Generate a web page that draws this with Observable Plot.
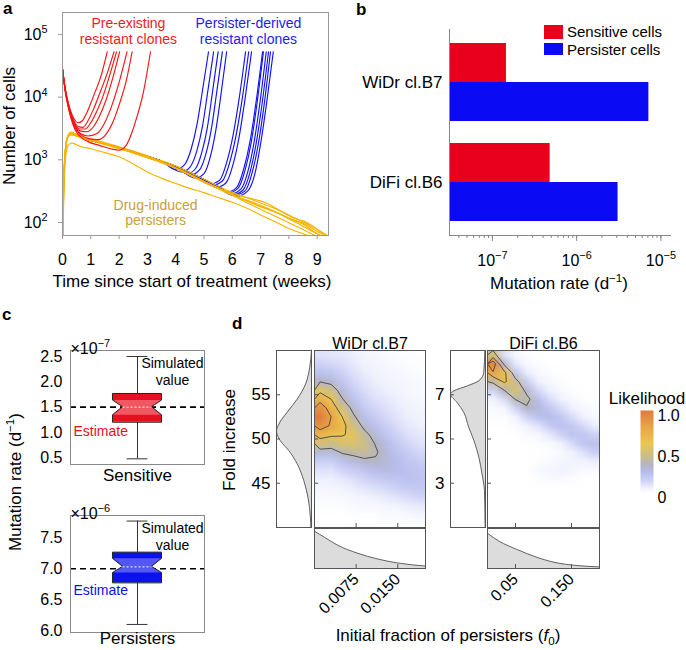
<!DOCTYPE html>
<html>
<head>
<meta charset="utf-8">
<script src="https://cdn.jsdelivr.net/npm/d3@7"></script>
<script src="https://cdn.jsdelivr.net/npm/@observablehq/plot@0.6"></script>
<style>
  html, body { margin: 0; padding: 0; background: #fff; }
  #fig { position: relative; width: 686px; height: 650px; overflow: hidden; background: #fff; }
  #fig svg { position: absolute; overflow: visible; }
</style>
</head>
<body>
<div id="fig"></div>
<script>
const FONT = '"Liberation Sans", Arial, Helvetica, sans-serif';

// ================= DATA: panel a (number of cells vs. weeks) =================
const weekTicks = [0, 1, 2, 3, 4, 5, 6, 7, 8, 9];
const cellTicks = [100, 1000, 10000, 100000];
// pre-existing resistant clones (red): [week, cells]
const preExistingRuns = [
  [[0,2.8e4],[0.1,1.35e4],[0.2,8200],[0.3,5800],[0.42,4400],[0.55,3900],[0.7,4200],[0.85,5500],[1.0,8000],[1.15,1.2e4],[1.35,2.1e4],[1.58,5.3e4]],
  [[0,2.8e4],[0.1,1.3e4],[0.2,8000],[0.3,5500],[0.42,4000],[0.55,3400],[0.72,3300],[0.9,4200],[1.1,6500],[1.3,1.1e4],[1.55,2.2e4],[1.82,5.3e4]],
  [[0,2.8e4],[0.1,1.3e4],[0.2,7800],[0.3,5300],[0.45,3700],[0.6,3100],[0.8,3100],[1.0,3900],[1.2,5800],[1.42,1e4],[1.65,2.1e4],[1.91,5.3e4]],
  [[0,2.8e4],[0.1,1.28e4],[0.2,7600],[0.3,5100],[0.45,3500],[0.62,2900],[0.85,2800],[1.1,3400],[1.3,4900],[1.52,8500],[1.76,1.9e4],[2.02,5.3e4]],
  [[0,2.8e4],[0.1,1.25e4],[0.2,7400],[0.3,4900],[0.45,3300],[0.65,2600],[0.9,2400],[1.2,2600],[1.45,3600],[1.7,6500],[1.98,1.6e4],[2.28,5.3e4]],
  [[0,2.8e4],[0.1,1.25e4],[0.2,7300],[0.3,4800],[0.45,3200],[0.65,2500],[0.9,2200],[1.25,2100],[1.55,2600],[1.8,4200],[2.05,8800],[2.25,1.8e4],[2.46,5.3e4]],
  [[0,2.8e4],[0.1,1.2e4],[0.2,7000],[0.3,4600],[0.45,3000],[0.65,2300],[0.9,1950],[1.3,1700],[1.7,1500],[2.0,1420],[2.25,1700],[2.45,2700],[2.65,5200],[2.85,1.15e4],[3.11,5.3e4]]
];
// persister population trend before resistance emerges (blue runs share it)
const persisterBandT = [0.7, 1, 1.5, 2, 2.5, 3, 3.5, 4, 4.5, 5, 5.5, 6];
const persisterBandN = [2250, 2050, 1800, 1560, 1330, 1130, 950, 780, 620, 480, 375, 295];
// persister-derived resistant clones (blue): take-off part
const persisterDerivedRises = [
  [[4.0,700],[4.3,820],[4.55,1500],[4.75,3600],[4.95,1.3e4],[5.16,5.3e4]],
  [[4.2,640],[4.5,760],[4.75,1400],[4.95,3500],[5.13,1.2e4],[5.34,5.3e4]],
  [[4.4,600],[4.7,720],[4.92,1300],[5.12,3300],[5.3,1.2e4],[5.5,5.3e4]],
  [[4.5,570],[4.85,700],[5.08,1300],[5.27,3300],[5.45,1.2e4],[5.65,5.3e4]],
  [[4.7,510],[5.0,600],[5.22,1100],[5.42,3000],[5.6,1.1e4],[5.8,5.3e4]],
  [[5.2,410],[5.55,470],[5.8,900],[6.03,2500],[6.25,1e4],[6.47,5.3e4]],
  [[5.3,395],[5.65,460],[5.9,880],[6.13,2400],[6.36,1e4],[6.58,5.3e4]],
  [[5.45,365],[5.78,430],[6.02,820],[6.24,2300],[6.46,1e4],[6.68,5.3e4]],
  [[5.8,305],[6.15,360],[6.4,700],[6.63,2000],[6.85,9000],[7.07,5.3e4]],
  [[5.85,295],[6.2,350],[6.45,680],[6.67,1900],[6.89,9000],[7.1,5.3e4]],
  [[5.95,285],[6.3,340],[6.55,650],[6.77,1900],[6.99,9000],[7.2,5.3e4]],
  [[6.0,275],[6.38,330],[6.63,640],[6.85,1900],[7.07,9000],[7.28,5.3e4]],
  [[6.05,270],[6.45,320],[6.7,620],[6.92,1800],[7.14,8500],[7.35,5.3e4]],
  [[6.15,262],[6.55,320],[6.8,600],[7.0,1800],[7.22,8500],[7.45,5.3e4]]
];
// drug-induced persisters (yellow)
const drugInducedRuns = [
  [[0,40],[0.06,420],[0.12,1200],[0.22,1750],[0.35,1850],[0.6,1650],[1,1500],[1.5,1300],[2,1120],[2.5,860],[3,640],[3.5,510],[4,420],[4.5,350],[5,300],[5.5,250],[6,210],[6.5,170],[7,132],[7.5,104],[8,80],[8.5,66],[8.8,59]],
  [[0,40],[0.05,500],[0.12,1600],[0.22,2500],[0.32,2800],[0.5,2500],[0.8,2250],[1.2,2050],[1.6,1820],[2,1620],[2.5,1380],[3,1160],[3.5,970],[4,800],[4.5,630],[5,490],[5.5,380],[6,300],[6.5,250],[7,205],[7.5,168],[8,132],[8.5,102],[9,78],[9.4,60]],
  [[0,40],[0.06,700],[0.14,2000],[0.25,2700],[0.4,2600],[0.7,2250],[1.1,2030],[1.5,1760],[2,1500],[2.5,1290],[3,1080],[3.5,900],[4,730],[4.5,570],[5,440],[5.5,345],[6,275],[6.5,228],[7,188],[7.5,150],[8,118],[8.5,97],[9,72],[9.3,61]],
  [[0,40],[0.05,600],[0.15,2100],[0.28,2600],[0.5,2400],[0.9,2150],[1.3,1930],[1.8,1660],[2.2,1460],[2.7,1240],[3.2,1050],[3.7,860],[4.2,680],[4.7,530],[5.2,410],[5.7,325],[6.2,272],[6.7,238],[7.2,205],[7.6,162],[8,128],[8.3,112],[8.6,102],[8.9,84],[9.2,67],[9.4,59]],
  [[0,40],[0.07,900],[0.16,2200],[0.3,2500],[0.6,2300],[1,2070],[1.4,1860],[1.9,1590],[2.4,1330],[2.9,1130],[3.4,940],[3.9,770],[4.4,600],[4.9,460],[5.4,365],[5.9,290],[6.4,232],[6.9,186],[7.3,160],[7.7,136],[8.1,112],[8.5,94],[8.8,76],[9.1,62]],
  [[0,40],[0.08,1000],[0.2,2400],[0.35,2550],[0.7,2200],[1.1,1960],[1.6,1710],[2.1,1460],[2.6,1250],[3.1,1040],[3.6,880],[4.1,700],[4.6,545],[5.1,425],[5.6,338],[6.1,266],[6.6,212],[7.1,172],[7.6,142],[8,114],[8.4,92],[8.8,73],[9.2,60]],
  [[0,40],[0.06,800],[0.18,2300],[0.3,2650],[0.6,2350],[1,2110],[1.5,1810],[2,1550],[2.5,1330],[3,1110],[3.5,925],[4,745],[4.5,585],[5,452],[5.5,348],[6,272],[6.5,208],[7,162],[7.5,127],[8,99],[8.4,81],[8.8,66],[9,59]]
];
const annotationsA = [
  {label: "Pre-existing", group: "red", t: 2.33, n: 1.5e5},
  {label: "resistant clones", group: "red", t: 2.33, n: 8.3e4},
  {label: "Persister-derived", group: "blue", t: 6.57, n: 1.5e5},
  {label: "resistant clones", group: "blue", t: 6.57, n: 8.3e4},
  {label: "Drug-induced", group: "gold", t: 3.29, n: 187},
  {label: "persisters", group: "gold", t: 3.29, n: 107}
];
const lineColors = {red: "#ff1212", blue: "#1010ff", yellow: "#f5b400"};
const annotationColors = {red: "#f01c1c", blue: "#1c1cf0", gold: "#c9a035"};

// ================= DATA: panel b (mutation rates) =================
const cellLines = ["WiDr cl.B7", "DiFi cl.B6"];
const cellTypes = ["Sensitive cells", "Persister cells"];
const sensitiveRates = [1.47e-7, 4.85e-7];
const persisterRates = [7.2e-6, 3.1e-6];
const typeColors = ["#e8001c", "#0a0af5"];
const rateMajorTicks = [1e-7, 1e-6, 1e-5];

// ================= DATA: panel c (box plots, value in units of the axis multiplier) =================
// [whisker low, Q1, notch low, median, notch high, Q3, whisker high]
const sensitiveStats = [0.48, 1.2, 1.34, 1.5, 1.63, 1.76, 2.5];
const persisterStats = [6.1, 6.77, 6.93, 7.03, 7.16, 7.26, 7.77];
const simulatedValues = [1.5, 7.0];
const sensitiveTicks = [0.5, 1.0, 1.5, 2.0, 2.5];
const persisterTicks = [6.0, 6.5, 7.0, 7.5];
const boxNames = ["Sensitive", "Persisters"];
const boxMultipliers = ["×10^{−7}", "×10^{−6}"];
const boxColors = ["#e8101e", "#0a10ee"];

// ================= DATA: panel d (likelihood surfaces) =================
// WiDr cl.B7 grid: 10 columns (f0 = 0.001 … 0.019), 20 rows (fold increase 59.5 … 40.5)
const widrGrid = [
  0.10,0.09,0.08,0.06,0.04,0.03,0.02,0.01,0.01,0.00,
  0.15,0.13,0.11,0.08,0.05,0.04,0.03,0.02,0.01,0.01,
  0.22,0.20,0.15,0.10,0.07,0.05,0.04,0.03,0.02,0.01,
  0.34,0.30,0.20,0.13,0.09,0.06,0.05,0.04,0.03,0.02,
  0.55,0.45,0.27,0.17,0.11,0.08,0.06,0.05,0.03,0.02,
  0.74,0.60,0.36,0.22,0.14,0.10,0.08,0.06,0.04,0.03,
  0.90,0.72,0.48,0.30,0.18,0.13,0.10,0.07,0.05,0.04,
  1.00,0.80,0.60,0.38,0.23,0.17,0.12,0.09,0.06,0.05,
  0.88,0.78,0.66,0.48,0.30,0.22,0.16,0.11,0.08,0.06,
  0.70,0.64,0.62,0.55,0.40,0.28,0.20,0.14,0.10,0.08,
  0.48,0.45,0.50,0.52,0.45,0.34,0.25,0.18,0.13,0.10,
  0.28,0.27,0.37,0.40,0.42,0.37,0.28,0.21,0.17,0.13,
  0.16,0.16,0.22,0.27,0.32,0.33,0.29,0.24,0.20,0.17,
  0.10,0.10,0.14,0.17,0.21,0.25,0.26,0.24,0.22,0.20,
  0.06,0.06,0.08,0.11,0.14,0.17,0.20,0.21,0.22,0.21,
  0.04,0.04,0.05,0.07,0.09,0.11,0.13,0.16,0.18,0.19,
  0.02,0.02,0.03,0.04,0.05,0.06,0.08,0.10,0.12,0.14,
  0.01,0.01,0.01,0.02,0.03,0.03,0.04,0.05,0.07,0.08,
  0.00,0.00,0.00,0.01,0.01,0.01,0.02,0.02,0.03,0.04,
  0.00,0.00,0.00,0.00,0.00,0.00,0.01,0.01,0.01,0.01
];
// DiFi cl.B6 grid: 10 columns (f0 = 0.01 … 0.19), 20 rows (fold increase 8.8 … 1.2)
const difiGrid = [
  0.45,0.10,0.03,0.01,0.00,0.00,0.00,0.00,0.00,0.00,
  0.95,0.30,0.08,0.03,0.01,0.00,0.00,0.00,0.00,0.00,
  0.78,0.66,0.20,0.07,0.03,0.01,0.00,0.00,0.00,0.00,
  0.40,0.64,0.42,0.16,0.06,0.03,0.01,0.00,0.00,0.00,
  0.14,0.35,0.52,0.30,0.13,0.06,0.03,0.01,0.00,0.00,
  0.05,0.12,0.36,0.40,0.23,0.12,0.06,0.03,0.01,0.00,
  0.02,0.04,0.14,0.33,0.28,0.20,0.12,0.06,0.03,0.01,
  0.01,0.01,0.05,0.14,0.22,0.24,0.20,0.12,0.06,0.03,
  0.00,0.00,0.02,0.05,0.10,0.18,0.22,0.19,0.13,0.07,
  0.00,0.00,0.00,0.02,0.03,0.08,0.14,0.21,0.20,0.15,
  0.00,0.00,0.00,0.00,0.01,0.02,0.05,0.12,0.20,0.22,
  0.00,0.00,0.00,0.00,0.00,0.01,0.02,0.05,0.10,0.16,
  0.00,0.00,0.00,0.00,0.01,0.02,0.04,0.05,0.05,0.07,
  0.00,0.00,0.00,0.00,0.03,0.04,0.05,0.04,0.02,0.02,
  0.00,0.00,0.00,0.00,0.01,0.02,0.02,0.01,0.00,0.00,
  0.00,0.00,0.00,0.00,0.00,0.00,0.00,0.00,0.00,0.00,
  0.00,0.00,0.00,0.00,0.00,0.00,0.00,0.00,0.00,0.00,
  0.00,0.00,0.00,0.00,0.00,0.00,0.00,0.00,0.00,0.00,
  0.00,0.00,0.00,0.00,0.00,0.00,0.00,0.00,0.00,0.00,
  0.00,0.00,0.00,0.00,0.00,0.00,0.00,0.00,0.00,0.00
];
const gridCols = 10, gridRows = 20;
const widrF0Domain = [0, 0.02], widrFoldDomain = [40, 60];
const difiF0Domain = [0, 0.2], difiFoldDomain = [1, 9];
// marginal densities (relative)
const widrFoldMarginal = {fold: [60.05,58.1,56.2,54.5,53.0,51.7,50.9,49.8,48.7,47.2,45.3,43.4,41.1,40.0], dens: [0,0.05,0.17,0.41,0.7,0.93,1.0,0.89,0.65,0.41,0.22,0.1,0.03,0.02]};
const difiFoldMarginal = {fold: [9.0,8.0,7.63,7.4,7.18,7.03,6.65,6.2,5.53,4.93,4.18,3.43,2.68,1.0], dens: [0.02,0.05,0.19,0.52,0.9,1.0,0.81,0.62,0.48,0.33,0.19,0.1,0.03,0.01]};
const widrF0Marginal = {f0: [0,0.0018,0.0042,0.0078,0.0113,0.0149,0.02], dens: [0.93,0.78,0.58,0.38,0.24,0.14,0.06]};
const difiF0Marginal = {f0: [0,0.021,0.052,0.088,0.124,0.155,0.2], dens: [0.88,0.68,0.48,0.28,0.14,0.08,0.04]};
const widrFoldTicks = [45, 50, 55], difiFoldTicks = [3, 5, 7];
const widrF0Ticks = [0.0075, 0.015], widrF0Labels = ["0.0075", "0.0150"];
const difiF0Ticks = [0.05, 0.15], difiF0Labels = ["0.05", "0.150"];
const contourLevels = [0.35, 0.6, 0.8];
const likelihoodStops = [0, 0.06, 0.14, 0.24, 0.34, 0.45, 0.6, 0.8, 1];
const likelihoodColors = ["#ffffff", "#eef0fd", "#cfd4f7", "#b8beed", "#b4b5c4", "#cbbf86", "#ecc650", "#e8a546", "#e07b3c"];
const legendTicks = [0, 0.5, 1], legendTickLabels = ["0", "0.5", "1.0"];

// ================= helpers =================
const fig = document.getElementById("fig");
function place(svg, left, top) {
  svg.style.left = left + "px";
  svg.style.top = top + "px";
  fig.appendChild(svg);
  return svg;
}
const baseStyle = {fontFamily: FONT, fontSize: "16px", color: "#000", background: "transparent", overflow: "visible"};
const likelihoodScale = {type: "linear", domain: likelihoodStops, range: likelihoodColors, clamp: true};
const NS = "http://www.w3.org/2000/svg";
// turn ^{..} / _{..} / *{..} markup into super/subscript/italic tspans
function rich(root) {
  root.querySelectorAll("text").forEach(t => {
    if (t.children.length) return;
    const s = t.textContent;
    if (!/[\^_*]\{/.test(s)) return;
    const fs = parseFloat(getComputedStyle(t).fontSize) || 16;
    t.textContent = "";
    const re = /([\^_*])\{([^}]*)\}/g;
    let last = 0, shift = 0, m;
    const push = (str, target, small, italic) => {
      const ts = document.createElementNS(NS, "tspan");
      ts.textContent = str;
      const d = target - shift;
      if (d) ts.setAttribute("dy", d.toFixed(2));
      if (small) ts.setAttribute("font-size", (fs * 0.68).toFixed(1));
      if (italic) ts.setAttribute("font-style", "italic");
      shift = target;
      t.appendChild(ts);
    };
    while ((m = re.exec(s))) {
      if (m.index > last) push(s.slice(last, m.index), 0, false, false);
      if (m[1] === "^") push(m[2], -fs * 0.42, true, false);
      else if (m[1] === "_") push(m[2], fs * 0.22, true, false);
      else push(m[2], 0, false, true);
      last = re.lastIndex;
    }
    if (last < s.length) push(s.slice(last), 0, false, false);
  });
}

// ================= panel a =================
const flatten = runs => runs.flatMap((run, i) => run.map(([t, n]) => ({t, n, run: i})));
const persisterBand = persisterBandT.map((t, i) => [t, persisterBandN[i]]);
const persisterDerivedRuns = persisterDerivedRises.map(rise => persisterBand.filter(([t]) => t <= rise[0][0] - 0.3).concat(rise));
const lineOpts = {x: "t", y: "n", z: "run", strokeWidth: 1.15, curve: "monotone-x", clip: true};
place(Plot.plot({
  width: 345, height: 300, marginLeft: 62, marginRight: 17, marginTop: 12, marginBottom: 65,
  style: baseStyle,
  x: {domain: [0, 9.4]},
  y: {type: "log", domain: [62, 2.24e5]},
  marks: [
    Plot.line(flatten(persisterDerivedRuns), {...lineOpts, stroke: lineColors.blue}),
    Plot.line(flatten(drugInducedRuns), {...lineOpts, stroke: lineColors.yellow}),
    Plot.line(flatten(preExistingRuns), {...lineOpts, stroke: lineColors.red}),
    ...["red", "blue", "gold"].map(g => Plot.text(annotationsA.filter(d => d.group === g),
      {x: "t", y: "n", text: "label", fill: annotationColors[g], fontSize: 14})),
    Plot.frame({stroke: "#999"}),
    Plot.axisX({ticks: weekTicks, tickSize: 4, tickPadding: 14, stroke: "#999", fill: "#000", label: null}),
    Plot.axisY({ticks: cellTicks, tickFormat: d => `10^{${Math.round(Math.log10(d))}}`, tickSize: 4, tickPadding: 11, stroke: "#999", fill: "#000", label: null})
  ]
}), 0, 0);

// ================= panel b =================
const barsB = cellLines.flatMap((line, i) => [
  {line, type: cellTypes[0], rate: sensitiveRates[i]},
  {line, type: cellTypes[1], rate: persisterRates[i]}
]);
const rateDomain = [3.1e-8, 1.3e-5];
place(Plot.plot({
  width: 341, height: 300, marginLeft: 104, marginRight: 16, marginTop: 29, marginBottom: 65,
  style: baseStyle,
  x: {type: "log", domain: rateDomain},
  y: {domain: cellLines, paddingInner: 0.22, paddingOuter: 0.14},
  color: {domain: cellTypes, range: typeColors},
  marks: [
    Plot.barX(barsB.filter(d => d.type === cellTypes[0]), {y: "line", x1: rateDomain[0], x2: "rate", fill: "type", insetBottom: 39}),
    Plot.barX(barsB.filter(d => d.type === cellTypes[1]), {y: "line", x1: rateDomain[0], x2: "rate", fill: "type", insetTop: 39}),
    Plot.ruleX([rateDomain[0]], {stroke: "#888"}),
    Plot.frame({anchor: "bottom", stroke: "#888"}),
    Plot.axisX({ticks: 30, tickFormat: () => "", tickSize: 3, stroke: "#888", label: null}),
    Plot.axisX({ticks: rateMajorTicks, tickFormat: d => `10^{−${Math.round(-Math.log10(d))}}`, tickSize: 6, tickPadding: 13, stroke: "#888", fill: "#000", label: null}),
    Plot.axisY({tickSize: 0, tickPadding: 7, fontSize: 17, label: null})
  ]
}), 345, 0);

// ================= panel c =================
const BOX_C = 0.5, BOX_HALF = 0.183, NOTCH_HALF = 0.108, CAP_HALF = 0.078;
function boxPanel(i, stats, ticks, domain, top, height, marginBottom, nameDy) {
  const [wLo, q1, nLo, med, nHi, q3, wHi] = stats;
  const outline = [{y: q1, h: BOX_HALF}, {y: nLo, h: BOX_HALF}, {y: med, h: NOTCH_HALF}, {y: nHi, h: BOX_HALF}, {y: q3, h: BOX_HALF}];
  const notch = outline.slice(1, 4);
  place(Plot.plot({
    width: 215, height, marginLeft: 70, marginRight: 11, marginTop: 20, marginBottom,
    style: baseStyle,
    x: {domain: [0, 1], axis: null},
    y: {domain},
    marks: [
      Plot.ruleY([simulatedValues[i]], {stroke: "#000", strokeWidth: 1.6, strokeDasharray: "6,4"}),
      Plot.ruleX([BOX_C], {y1: wLo, y2: q1, stroke: "#333"}),
      Plot.ruleX([BOX_C], {y1: q3, y2: wHi, stroke: "#333"}),
      Plot.ruleY([wLo, wHi], {x1: BOX_C - CAP_HALF, x2: BOX_C + CAP_HALF, stroke: "#333"}),
      Plot.areaX(outline, {y: "y", x1: d => BOX_C - d.h, x2: d => BOX_C + d.h, fill: boxColors[i], stroke: "#222", strokeWidth: 1}),
      Plot.areaX(notch, {y: "y", x1: d => BOX_C - d.h + 0.006, x2: d => BOX_C + d.h - 0.006, fill: "#fff", fillOpacity: 0.3}),
      Plot.ruleY([med], {x1: BOX_C - NOTCH_HALF, x2: BOX_C + NOTCH_HALF, stroke: "#fff", strokeDasharray: "2,2"}),
      Plot.frame({stroke: "#888"}),
      Plot.axisY({ticks, tickFormat: d => d.toFixed(1), tickSize: 0, tickPadding: 8, label: null}),
      Plot.text([boxMultipliers[i]], {text: d => d, frameAnchor: "top-left", textAnchor: "start", dy: -8, fontSize: 16}),
      Plot.text(["Simulated\nvalue"], {text: d => d, frameAnchor: "top-right", textAnchor: "middle", lineAnchor: "middle", dx: -32, dy: 21, fontSize: 14, lineHeight: 1.2}),
      Plot.text([med], {y: d => d, text: () => "Estimate", frameAnchor: "left", textAnchor: "start", dx: 3, dy: 24, fill: boxColors[i], fontSize: 14}),
      Plot.text([boxNames[i]], {text: d => d, frameAnchor: "bottom", dy: nameDy, fontSize: 17})
    ]
  }), 0, top);
}
boxPanel(0, sensitiveStats, sensitiveTicks, [0.368, 2.618], 330, 165, 31, 16);
boxPanel(1, persisterStats, persisterTicks, [5.97, 7.86], 495, 155, 18, 11);

// ================= panel d =================
function foldMarginal(m, dom, ticks, left, width, marginLeft) {
  const data = m.fold.map((f, i) => ({fold: f, dens: m.dens[i]}));
  place(Plot.plot({
    width, height: 190, marginLeft, marginRight: 2, marginTop: 10, marginBottom: 3,
    style: baseStyle,
    x: {domain: [1, 0], axis: null},
    y: {domain: dom},
    marks: [
      Plot.areaX(data, {y: "fold", x: "dens", fill: "#dcdcdc", curve: "monotone-y"}),
      Plot.lineX(data, {y: "fold", x: "dens", stroke: "#555", strokeWidth: 0.9, curve: "monotone-y"}),
      Plot.tickY(ticks, {y: d => d, insetRight: 31, stroke: "#555"}),
      Plot.frame({stroke: "#555"}),
      Plot.axisY({ticks, tickSize: 0, tickPadding: 6, fontSize: 17, label: null})
    ]
  }), left, 340);
}
function heatmap(grid, xDom, yDom, xTicks, yTicks, title, left, width) {
  const fw = width - 5;
  place(Plot.plot({
    width, height: 200, marginLeft: 2, marginRight: 3, marginTop: 20, marginBottom: 3,
    style: baseStyle,
    x: {domain: xDom, axis: null},
    y: {domain: yDom, axis: null},
    color: likelihoodScale,
    marks: [
      Plot.raster(grid, {width: gridCols, height: gridRows, x1: xDom[0], x2: xDom[1], y1: yDom[1], y2: yDom[0], fill: Plot.identity}),
      Plot.contour(grid, {width: gridCols, height: gridRows, x1: xDom[0], x2: xDom[1], y1: yDom[1], y2: yDom[0], value: Plot.identity, thresholds: contourLevels, stroke: "#444", strokeWidth: 0.9, fill: "none"}),
      Plot.tickY(yTicks, {y: d => d, insetRight: fw - 4, stroke: "#555"}),
      Plot.tickX(xTicks, {x: d => d, insetTop: 173, stroke: "#555"}),
      Plot.frame({stroke: "#555"}),
      Plot.text([title], {text: d => d, frameAnchor: "top", dy: -13, fontSize: 16})
    ]
  }), left, 330);
}
function f0Marginal(m, xDom, ticks, labels, left, width) {
  const data = m.f0.map((f, i) => ({f0: f, dens: m.dens[i]}));
  place(Plot.plot({
    width, height: 112, marginLeft: 2, marginRight: 3, marginTop: 2, marginBottom: 70,
    style: baseStyle,
    x: {domain: xDom},
    y: {domain: [0, 1], axis: null},
    marks: [
      Plot.areaY(data, {x: "f0", y: "dens", fill: "#dcdcdc", curve: "monotone-x"}),
      Plot.lineY(data, {x: "f0", y: "dens", stroke: "#555", strokeWidth: 0.9, curve: "monotone-x"}),
      Plot.tickX(ticks, {x: d => d, insetTop: 36, stroke: "#555"}),
      Plot.frame({stroke: "#555"}),
      Plot.axisX({ticks, tickFormat: d => labels[ticks.indexOf(d)], tickRotate: -45, tickSize: 0, tickPadding: 8, fontSize: 16, label: null})
    ]
  }), left, 526);
}
foldMarginal(widrFoldMarginal, widrFoldDomain, widrFoldTicks, 236, 77, 40);
heatmap(widrGrid, widrF0Domain, widrFoldDomain, widrF0Ticks, widrFoldTicks, cellLines[0], 312, 116);
f0Marginal(widrF0Marginal, widrF0Domain, widrF0Ticks, widrF0Labels, 312, 116);
foldMarginal(difiFoldMarginal, difiFoldDomain, difiFoldTicks, 420, 67, 30);
heatmap(difiGrid, difiF0Domain, difiFoldDomain, difiF0Ticks, difiFoldTicks, cellLines[1], 485, 117);
f0Marginal(difiF0Marginal, difiF0Domain, difiF0Ticks, difiF0Labels, 485, 117);

// likelihood colour bar
place(Plot.plot({
  width: 86, height: 125, marginLeft: 40, marginRight: 33, marginTop: 30, marginBottom: 13,
  style: baseStyle,
  x: {domain: [0, 1], axis: null},
  y: {domain: [0, 1]},
  color: likelihoodScale,
  marks: [
    Plot.raster({fill: (x, y) => y, x1: 0, x2: 1, y1: 0, y2: 1, pixelSize: 1}),
    Plot.axisY({anchor: "right", ticks: legendTicks, tickFormat: d => legendTickLabels[legendTicks.indexOf(d)], tickSize: 0, tickPadding: 4, dy: 5, fontSize: 16, label: null}),
    Plot.text(["Likelihood"], {text: d => d, frameAnchor: "top", dy: -19, fontSize: 17})
  ]
}), 600, 380);

// ================= overlay: panel letters, axis titles, legend =================
const ov = d3.select(fig).append("svg").attr("width", 686).attr("height", 650)
  .style("left", "0px").style("top", "0px").attr("font-family", FONT);
function label(str, x, y, {size = 17, weight = null, anchor = "middle", rotate = 0, fill = "#000"} = {}) {
  ov.append("text").attr("transform", `translate(${x},${y}) rotate(${rotate})`)
    .attr("text-anchor", anchor).attr("font-size", size).attr("font-weight", weight).attr("fill", fill).text(str);
}
label("a", 3, 14, {weight: "bold", anchor: "start"});
label("b", 356, 15, {weight: "bold", anchor: "start"});
label("c", 2, 320, {weight: "bold", anchor: "start"});
label("d", 232, 329, {weight: "bold", anchor: "start"});
label("Time since start of treatment (weeks)", 192, 287);
label("Number of cells", 15, 126, {rotate: -90});
label("Mutation rate (d^{−1})", 559, 289);
label("Mutation rate (d^{−1})", 21, 482, {rotate: -90});
label("Fold increase", 235, 440, {rotate: -90});
label("Initial fraction of persisters (*{f}_{0})", 448, 641);
cellTypes.forEach((t, i) => {
  ov.append("rect").attr("x", 544).attr("y", i ? 43 : 25).attr("width", 19).attr("height", i ? 12 : 14).attr("fill", typeColors[i]);
  label(t, 567, i ? 55 : 37, {size: 15, anchor: "start"});
});

rich(fig);
</script>
</body>
</html>
